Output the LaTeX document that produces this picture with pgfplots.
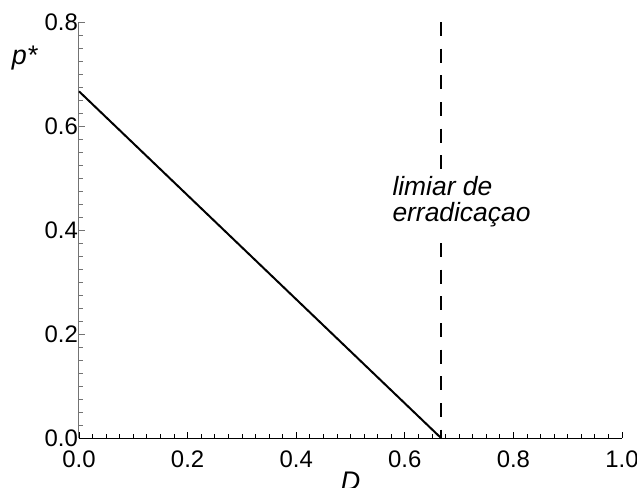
\documentclass[border=0pt]{standalone}
\usepackage{fontspec}
\setmainfont{Liberation Sans}
\usepackage{pgfplots}
\pgfplotsset{compat=1.18}
\begin{document}
\begin{tikzpicture}
\path[use as bounding box] (-79bp,-50bp) rectangle (558bp,438bp);
\begin{axis}[
  at={(0,0)}, anchor=south west,
  scale only axis, width=543bp, height=416bp,
  xmin=0, xmax=1, ymin=0, ymax=0.8,
  axis x line*=bottom, axis y line*=left,
  axis line style={-},
  x axis line style={black, line width=1bp},
  y axis line style={black!55, line width=1bp},
  xtick={0,0.2,0.4,0.6,0.8,1.0},
  ytick={0,0.2,0.4,0.6,0.8},
  minor x tick num=7, minor y tick num=7,
  tick align=inside,
  major tick length=6bp, minor tick length=4bp,
  x tick style={black, line width=0.8bp},
  y tick style={black!55, line width=0.8bp},
  /pgf/number format/assume math mode=true,
  /pgf/number format/.cd, fixed, fixed zerofill, precision=1, /pgfplots/.cd,
  tick label style={font=\fontsize{24}{24}\selectfont},
  yticklabel style={inner xsep=1bp},
  xticklabel style={inner ysep=1bp, yshift=-12bp},
  xlabel={\textit{D}},
  xlabel style={at={(axis description cs:0.5,0)}, anchor=north, inner sep=0pt, yshift=-34bp, font=\fontsize{27}{27}\selectfont},
  ylabel={\textit{p*}},
  ylabel style={rotate=-90, at={(axis description cs:0,1)}, anchor=center, xshift=-54bp, yshift=-36bp, font=\fontsize{27}{27}\selectfont},
  clip=false,
]
\addplot[black, line width=2bp] coordinates {(0,0.6667) (0.6667,0)};
\addplot[black, line width=2bp, dash pattern=on 14bp off 12.67bp] coordinates {(0.6667,0.8) (0.6667,0.5135)};
\addplot[black, line width=2bp, dash pattern=on 14bp off 12.67bp] coordinates {(0.6667,0.375) (0.6667,0)};
\node[anchor=base west, inner sep=0pt, font=\fontsize{26.5}{26.5}\selectfont\itshape] at (axis cs:0.577,0.4654) {limiar de};
\node[anchor=base west, inner sep=0pt, font=\fontsize{26.5}{26.5}\selectfont\itshape] at (axis cs:0.577,0.4173) {erradicaçao};
\end{axis}
\end{tikzpicture}
\end{document}
